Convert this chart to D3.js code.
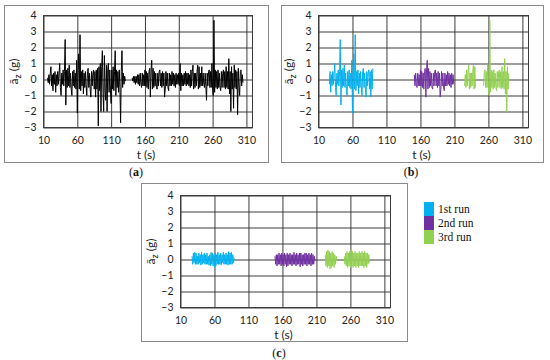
<!DOCTYPE html>
<html>
<head>
<meta charset="utf-8">
<script src="https://cdn.jsdelivr.net/npm/d3@7"></script>
<style>
body { margin: 0; background: #fff; }
.tick text { font-family: Lato, "Liberation Sans", sans-serif; font-size: 10.5px; fill: #222; }
.tick line { stroke: #3c3c3c; }
.frame { fill: none; stroke: #3c3c3c; }
.box { fill: none; stroke: #8a8a8a; }
.axis-title { font-family: Lato, "Liberation Sans", sans-serif; font-size: 12px; fill: #222; }
.panel-label { font-family: "Liberation Serif", serif; font-size: 12px; fill: #111; }
.legend text { font-family: "Liberation Serif", serif; font-size: 11.5px; fill: #111; }
.signal { fill: none; stroke-width: 1; stroke-linejoin: round; }
</style>
</head>
<body>
<script>
// sampling step of the recorded signal (s)
var sampleStep = 1;

// (a) raw vertical acceleration, two recorded pieces
var rawStart1 = 16;
var rawValues1 = [
  0.1, -0.2, 0.3, -0.3, 0.4, 0.8, -0.4, 0.3, -0.7, 0.4,
  -0.3, 0.5, -0.8, 0.3, -0.4, 0.5, -0.3, 0.4, 1.0, -0.5,
  -1.0, 0.4, -0.3, 0.6, -0.4, 0.5, 2.5, -1.6, 0.6, -0.5,
  0.7, -0.4, 0.9, -0.5, 0.4, -0.6, -1.0, 0.5, -0.4, 0.6,
  -0.5, 0.4, -0.6, 1.2, -2.1, 0.6, 1.6, -0.6, 2.8, -0.7,
  0.5, -0.4, 0.6, -0.9, 0.4, -0.5, 0.5, -0.4, -1.0, 0.5,
  0.7, -0.5, 0.4, -0.6, -1.1, 0.5, -0.4, 0.4, 0.6, -0.6,
  0.5, -1.1, 0.6, -0.6, 0.7, -2.9, 0.8, -0.7, 1.0, -2.0,
  0.8, 1.8, -0.8, -2.0, 1.5, -0.7, -1.3, 0.9, -2.0, 0.7,
  1.0, -0.8, 0.6, -0.7, -1.5, 0.6, -0.6, 0.8, -0.7, 0.5,
  1.8, -1.0, 0.6, -0.5, 0.5, -0.8, 0.6, -0.5, -2.7, 0.5,
  1.8, -0.5, 0.4, -0.3, 0.2, -0.1
];
var rawStart2 = 141;
var rawValues2 = [
  0.1, -0.1, 0.2, -0.2, 0.2, -0.3, 0.2, -0.2, 0.3, -0.3,
  0.3, -0.4, 0.4, -0.3, -0.5, 0.4, -0.4, 0.3, -0.4, 0.6,
  -0.4, 0.5, -0.5, 0.4, -0.6, 0.5, 0.7, -1.1, 0.6, 1.2,
  -0.6, 0.7, -0.5, 0.5, -0.4, 0.4, -0.5, -0.6, 0.4, -0.4,
  0.5, 0.6, -0.4, 0.4, -0.5, 0.5, -0.4, 0.4, -1.1, -0.6,
  0.5, -0.4, 0.4, -0.5, -0.7, 0.4, -0.4, 0.3, -0.4, 0.5,
  -0.3, 0.4, -0.4, 0.3, -0.5, 0.4, -0.3, 0.3, -0.3, 0.4,
  -0.4, 1.0, -0.7, 0.4, -0.4, 0.3, -0.4, 0.4, -0.3, 0.5,
  -0.4, 0.4, -0.3, 0.4, -0.4, 0.3, -0.5, 0.6, -0.4, 0.5,
  0.9, -0.6, 0.4, -0.5, 0.4, -0.4, 0.5, 0.9, -0.6, 0.8,
  -0.5, 0.4, -0.4, 0.8, -0.4, 0.4, -0.3, -0.5, 0.4, -0.4,
  -1.3, 0.4, -0.4, 0.5, 0.6, -0.5, 0.5, -0.5, 1.0, -0.6,
  -1.0, 3.7, -0.8, 0.6, -0.5, 0.5, -0.6, 0.6, -0.5, 0.4,
  -0.5, -0.7, 0.5, -0.5, 0.4, 0.6, -0.5, 0.5, -0.6, 0.8,
  -0.5, 0.5, -0.6, 1.3, -0.9, 0.5, -2.0, 0.8, -0.6, 0.4,
  -1.8, 0.9, -0.5, 0.6, -0.6, 0.5, -2.2, 0.7, -0.5, -1.0,
  0.5, 0.6, -0.4, 0.3, -0.2
];

// (b) time windows kept for each run: [from, to, run]
var runNames = ["1st run", "2nd run", "3rd run"];
var runWindows = [[26, 90, 0], [151, 209, 1], [225, 241, 2], [253, 290, 2]];

// (c) filtered signal per window
var filtStarts = [27, 149, 223, 251];
var filtRuns = [0, 1, 2, 2];
var filtBlue = [
  0.2, -0.3, 0.4, -0.2, 0.45, -0.3, 0.4, -0.3, 0.2, -0.3,
  0.4, -0.2, 0.3, -0.35, 0.45, -0.3, 0.3, -0.2, 0.4, -0.3,
  0.3, -0.3, 0.4, -0.3, 0.2, -0.35, 0.3, -0.4, 0.45, -0.3,
  0.4, -0.4, 0.3, -0.5, 0.4, -0.4, 0.3, -0.3, 0.45, -0.3,
  0.3, -0.3, 0.4, -0.35, 0.3, -0.2, 0.45, -0.3, 0.3, -0.3,
  0.4, -0.3, 0.3, -0.35, 0.5, -0.3, 0.4, -0.3, 0.45, -0.3,
  0.3, -0.2, 0.1
];
var filtPurple = [
  0.2, -0.3, 0.3, -0.4, 0.3, -0.3, 0.4, -0.3, 0.3, -0.4,
  0.4, -0.3, 0.3, -0.4, 0.4, -0.3, 0.3, -0.45, 0.4, -0.4,
  0.3, -0.3, 0.4, -0.3, 0.3, -0.4, 0.3, -0.3, 0.45, -0.3,
  0.3, -0.4, 0.4, -0.3, 0.3, -0.3, 0.4, -0.45, 0.4, -0.3,
  0.3, -0.4, 0.3, -0.3, 0.4, -0.3, 0.4, -0.4, 0.3, -0.3,
  0.4, -0.3, 0.3, -0.4, 0.4, -0.3, 0.3, -0.3, 0.2, -0.1
];
var filtGreen1 = [
  0.3, -0.4, 0.5, -0.5, 0.6, -0.4, 0.5, -0.6, 0.4, -0.5,
  0.5, -0.4, 0.4, -0.5, 0.3, -0.3, 0.2, -0.1
];
var filtGreen2 = [
  0.2, -0.3, 0.4, -0.4, 0.5, -0.5, 0.4, -0.4, 0.5, -0.5,
  0.6, -0.4, 0.5, -0.5, 0.4, -0.4, 0.5, -0.5, 0.4, -0.4,
  0.4, -0.5, 0.5, -0.4, 0.4, -0.4, 0.5, -0.4, 0.4, -0.5,
  0.5, -0.4, 0.4, -0.5, 0.4, -0.3, 0.3, -0.2
];

// axis ticks
var xTicks = [10, 60, 110, 160, 210, 260, 310];
var yTicks = [-3, -2, -1, 0, 1, 2, 3, 4];
var xDomain = [10, 319];
var yDomain = [-3, 4];

var color = d3.scaleOrdinal()
    .domain(runNames)
    .range(["#00B0F0", "#7030A0", "#92D050"]);

function toPoints(start, values) {
  return values.map(function(v, i) { return {t: start + i * sampleStep, v: v}; });
}

var raw1 = toPoints(rawStart1, rawValues1),
    raw2 = toPoints(rawStart2, rawValues2),
    rawAll = raw1.concat(raw2);

var svg = d3.select("body").append("svg")
    .attr("width", 550)
    .attr("height", 360);

function panel(o) {
  svg.append("rect").attr("class", "box")
      .attr("x", o.box[0] + 0.5).attr("y", o.box[1] + 0.5)
      .attr("width", o.box[2]).attr("height", o.box[3]);

  var w = o.plot[2], h = o.plot[3];
  var g = svg.append("g")
      .attr("transform", "translate(" + (o.plot[0] + 0.5) + "," + (o.plot[1] + 0.5) + ")");

  var x = d3.scaleLinear().domain(xDomain).range([0, w]);
  var y = d3.scaleLinear().domain(yDomain).range([h, 0]);

  g.append("g")
      .attr("transform", "translate(0," + h + ")")
      .call(d3.axisBottom(x).tickValues(xTicks).tickSize(-h).tickSizeOuter(0).tickPadding(9))
      .call(function(a) { a.select(".domain").remove(); });

  g.append("g")
      .call(d3.axisLeft(y).tickValues(yTicks).tickSize(-w).tickSizeOuter(0).tickPadding(7).tickFormat(d3.format("d")))
      .call(function(a) { a.select(".domain").remove(); });

  g.append("rect").attr("class", "frame").attr("width", w).attr("height", h);

  var line = d3.line()
      .x(function(d) { return x(d.t); })
      .y(function(d) { return y(d.v); });

  o.series.forEach(function(s) {
    g.append("path").attr("class", "signal")
        .attr("d", line(s.points))
        .attr("stroke", s.color);
  });

  // titles
  g.append("text").attr("class", "axis-title")
      .attr("x", w / 2 - 2).attr("y", h + 31)
      .attr("text-anchor", "middle")
      .text("t (s)");

  var yt = g.append("text").attr("class", "axis-title")
      .attr("transform", "translate(" + (o.yTitleX - o.plot[0]) + "," + (h / 2) + ") rotate(-90)")
      .attr("text-anchor", "middle");
  yt.append("tspan").text("ā");
  yt.append("tspan").attr("dy", 3).style("font-size", "9px").text("z");
  yt.append("tspan").attr("dy", -3).text(" (g)");

  var lab = svg.append("text").attr("class", "panel-label")
      .attr("x", o.label[1]).attr("y", o.label[2])
      .attr("text-anchor", "middle");
  lab.append("tspan").text("(");
  lab.append("tspan").style("font-weight", "bold").text(o.label[0]);
  lab.append("tspan").text(")");
}

// (a)
panel({
  box: [4, 5, 264, 157], plot: [43, 15, 209, 112], yTitleX: 17,
  label: ["a", 136, 176],
  series: [{points: raw1, color: "#000"}, {points: raw2, color: "#000"}]
});

// (b)
panel({
  box: [281, 5, 262, 157], plot: [318, 15, 210, 112], yTitleX: 292,
  label: ["b", 411, 176],
  series: runWindows.map(function(r) {
    return {
      points: rawAll.filter(function(d) { return d.t >= r[0] && d.t <= r[1]; }),
      color: color(runNames[r[2]])
    };
  })
});

// (c)
var filtValues = [filtBlue, filtPurple, filtGreen1, filtGreen2];
panel({
  box: [141, 183, 266, 158], plot: [180, 195, 210, 112], yTitleX: 154,
  label: ["c", 279, 357],
  series: filtValues.map(function(vals, i) {
    return {points: toPoints(filtStarts[i], vals), color: color(runNames[filtRuns[i]])};
  })
});

// legend
var legend = svg.append("g").attr("class", "legend")
    .attr("transform", "translate(424,202)");
var item = legend.selectAll("g")
    .data(runNames)
    .enter().append("g")
    .attr("transform", function(d, i) { return "translate(0," + i * 14 + ")"; });
item.append("rect")
    .attr("width", 10).attr("height", 14)
    .attr("fill", function(d) { return color(d); });
item.append("text")
    .attr("x", 14).attr("y", 11)
    .text(function(d) { return d; });
</script>
</body>
</html>
